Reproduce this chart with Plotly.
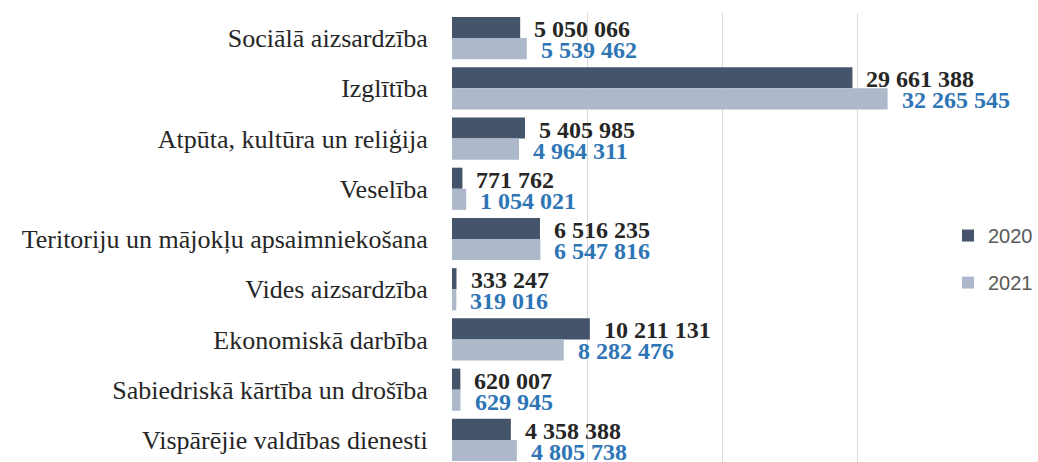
import plotly.graph_objects as go

categories = [
    "Sociālā aizsardzība",
    "Izglītība",
    "Atpūta, kultūra un reliģija",
    "Veselība",
    "Teritoriju un mājokļu apsaimniekošana",
    "Vides aizsardzība",
    "Ekonomiskā darbība",
    "Sabiedriskā kārtība un drošība",
    "Vispārējie valdības dienesti",
]
values_2020 = [5050066, 29661388, 5405985, 771762, 6516235, 333247, 10211131, 620007, 4358388]
values_2021 = [5539462, 32265545, 4964311, 1054021, 6547816, 319016, 8282476, 629945, 4805738]
series_names = ["2020", "2021"]

COL_2020 = "#44546A"
COL_2021 = "#ADB9CA"
LBL_2020 = "#262626"
LBL_2021 = "#2E75B6"


def fmt(v):
    return f"{v:,}".replace(",", " ")


fig = go.Figure()
fig.add_trace(go.Bar(
    y=categories, x=values_2020, orientation="h", name=series_names[0],
    marker=dict(color=COL_2020, line=dict(width=0)), legendgroup="a",
    hoverinfo="skip",
))
fig.add_trace(go.Bar(
    y=categories, x=values_2021, orientation="h", name=series_names[1],
    marker=dict(color=COL_2021, line=dict(width=0)), legendgroup="b",
    hoverinfo="skip",
))

annotations = []
for c, v in zip(categories, values_2020):
    annotations.append(dict(
        x=v, y=c, xref="x", yref="y", text=fmt(v), showarrow=False,
        xanchor="left", yanchor="middle", xshift=12, yshift=9,
        font=dict(family="Liberation Serif", size=24, color=LBL_2020, weight="bold"),
    ))
for c, v in zip(categories, values_2021):
    annotations.append(dict(
        x=v, y=c, xref="x", yref="y", text=fmt(v), showarrow=False,
        xanchor="left", yanchor="middle", xshift=12, yshift=-12,
        font=dict(family="Liberation Serif", size=24, color=LBL_2021, weight="bold"),
    ))

fig.update_layout(
    width=1038, height=462,
    margin=dict(l=452, r=40, t=13, b=0),
    paper_bgcolor="white", plot_bgcolor="white",
    barmode="group", bargap=0.16, bargroupgap=0,
    annotations=annotations,
    showlegend=True,
    legend=dict(
        x=0.919, xanchor="left", y=0.452, yanchor="middle",
        traceorder="grouped", tracegroupgap=18,
        font=dict(family="Liberation Sans", size=20, color="#595959"),
        bgcolor="rgba(0,0,0,0)",
    ),
    xaxis=dict(
        range=[0, 40000000], dtick=10000000, showgrid=True, gridcolor="#D9D9D9",
        gridwidth=1, zeroline=False, showticklabels=False, showline=False,
        fixedrange=True,
    ),
    yaxis=dict(
        categoryorder="array", categoryarray=categories,
        range=[8.44, -0.5], showgrid=False, zeroline=False, showline=False,
        ticks="outside", ticklen=18, tickcolor="rgba(0,0,0,0)",
        tickfont=dict(family="Liberation Serif", size=26, color="#262626"),
        fixedrange=True,
    ),
)

fig.write_html(
    "out.html",
    config={"displayModeBar": False, "staticPlot": True},
    post_script="document.body.style.margin='0';document.body.style.overflow='hidden';",
)
